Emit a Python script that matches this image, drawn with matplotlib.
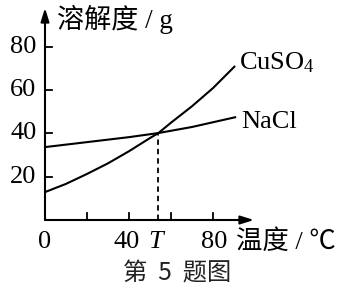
import matplotlib
matplotlib.use('Agg')
import matplotlib.pyplot as plt

# values
temp_cuso4 = [0, 10, 20, 30, 40, 50, 54, 60, 70, 80, 90.5]
sol_cuso4 = [12.9, 16.7, 21.3, 26.2, 31.8, 37.9, 40.2, 45.0, 52.6, 61.0, 71.2]
temp_nacl = [0, 20, 40, 54, 70, 91]
sol_nacl = [33.7, 36.0, 38.3, 40.2, 43.0, 47.6]
T_cross = 54
S_cross = 40.2
xticks = [20, 40, 60, 80]
yticks = [20, 40, 60, 80]
ytick_labels = ['20', '40', '60', '80']

serif = 'Liberation Serif'
cjk = [serif, 'Noto Sans CJK SC']
plt.rcParams['mathtext.fontset'] = 'custom'
plt.rcParams['mathtext.rm'] = serif
plt.rcParams['mathtext.it'] = serif + ':italic'

W, H = 348, 295
fig = plt.figure(figsize=(W / 100, H / 100), dpi=100)
x0, y0, x1, y1 = 45, 220, 254, 8
ax = fig.add_axes([x0 / W, (H - y0) / H, (x1 - x0) / W, (y0 - y1) / H])
ax.set_xlim(0, 99.5)
ax.set_ylim(0, 98)
ax.axis('off')

lw = 1.5
ax.plot(temp_cuso4, sol_cuso4, color='black', lw=lw, solid_capstyle='butt')
ax.plot(temp_nacl, sol_nacl, color='black', lw=lw, solid_capstyle='butt')
ax.plot([T_cross, T_cross], [0, S_cross], color='black', lw=1.3, dashes=(3, 2.2))

# axes with arrows
arrow = dict(arrowstyle='-|>,head_length=0.8,head_width=0.25', color='black', lw=1.5,
             shrinkA=0, shrinkB=0)
ax.annotate('', xy=(99.5, 0), xytext=(0, 0), arrowprops=arrow, annotation_clip=False)
ax.annotate('', xy=(0, 98), xytext=(0, 0), arrowprops=arrow, annotation_clip=False)

# ticks pointing inward
for t in xticks:
    ax.plot([t, t], [0, 3.2], color='black', lw=1.3, clip_on=False)
for t in yticks:
    ax.plot([0, 3.3], [t, t], color='black', lw=1.3, clip_on=False)

fs = 19
for t, lab in zip(yticks, ytick_labels):
    ax.text(-4.0, t, lab, ha='right', va='center', fontsize=fs, family=serif)
for t, lab in [(0, '0'), (39, '40'), (80.5, '80')]:
    ax.text(t, -10, lab, ha='center', va='center', fontsize=fs, family=serif)
ax.text(52.5, -10, 'T', ha='center', va='center', fontsize=fs, family=serif,
        style='italic')

ax.text(91.0, -10, '温度 / ℃', ha='left', va='center', fontsize=19, family=cjk)
ax.text(5.5, 92.5, '溶解度 / g', ha='left', va='center', fontsize=19.5, family=cjk)
ax.text(92.5, 72.5, 'CuSO$_4$', ha='left', va='center', fontsize=fs, family=serif)
ax.text(93.5, 45.5, 'NaCl', ha='left', va='center', fontsize=fs, family=serif)

fig.text(177 / W, 1 - 274 / H, '第  5  题图', ha='center', va='center', fontsize=17.5,
         family=['Noto Sans CJK SC', 'DejaVu Sans'], weight='light', color='#222222')

fig.savefig('out.png', dpi=100, facecolor='white')
